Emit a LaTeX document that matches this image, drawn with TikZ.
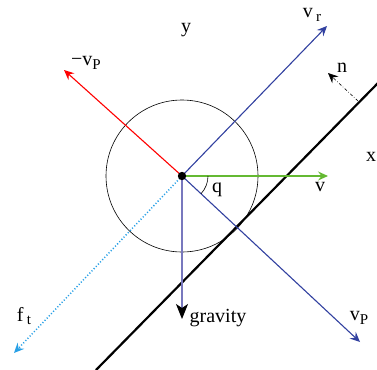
\documentclass[tikz,border=0pt]{standalone}
\usepackage{fontspec}
\setmainfont{Liberation Serif}
\usetikzlibrary{arrows.meta}
\begin{document}
\begin{tikzpicture}[x=1pt,y=-1pt,
  lbl/.style={inner sep=0pt,font=\fontsize{20}{23}\selectfont},
  vec/.style={line width=1.1pt,-{Stealth[length=10pt,width=9pt,inset=3.5pt]}}]
\useasboundingbox (0,0) rectangle (377,369);
\definecolor{myblue}{RGB}{50,65,160}
\definecolor{mygreen}{RGB}{100,185,50}
\definecolor{mylav}{RGB}{120,120,190}
\definecolor{mycyan}{RGB}{40,160,230}
\newcommand{\subtx}[1]{\raisebox{-0.4ex}{\fontsize{15}{17}\selectfont #1}}
\coordinate (C) at (182,176);
\coordinate (Vp) at (64,70);
\coordinate (Vr) at (327,26);
\coordinate (V) at (328,176);
\coordinate (VP) at (360,342);
\coordinate (G) at (182,319);
\coordinate (F) at (14,353);
\coordinate (W1) at (378,83);
\coordinate (W2) at (96,370);
\coordinate (N1) at (358,101);
\coordinate (N2) at (328,73);
\draw[line width=0.6pt] (C) circle (76);
\draw[line width=2.2pt] (W1) -- (W2);
\draw[line width=0.6pt,dash dot,-{Stealth[length=10pt,width=9pt,inset=3.5pt]}] (N1) -- (N2);
\draw[vec,red] (C) -- (Vp);
\draw[vec,myblue] (C) -- (Vr);
\draw[vec,myblue] (C) -- (VP);
\draw[vec,mygreen] (C) -- (V);
\draw[vec,mycyan,dotted,line width=1.5pt] (C) -- (F);
\draw[line width=1.1pt,mylav,-{Stealth[length=15pt,width=12pt,inset=4pt,black]}] (C) -- (G);
\draw[line width=0.6pt] ([shift={(26,0)}]C) arc[start angle=0,end angle=43,radius=26];
\fill (C) circle (4.2);
\node[lbl] (ly) at (186,30) {y};
\node[lbl] (lvp) at (86,63) {−v\subtx{P}};
\node[lbl] (lvr) at (312,15) {v\,\subtx{r}};
\node[lbl] (ln) at (342,68) {n};
\node[lbl] (lx) at (371,157) {x};
\node[lbl] (lv) at (320,187) {v};
\node[lbl] (lq) at (217,190) {q};
\node[lbl] (lvP) at (359,318) {v\subtx{P}};
\node[lbl] (lg) at (218,318) {gravity};
\node[lbl] (lf) at (24,316) {f\,\subtx{t}};
\end{tikzpicture}
\end{document}
